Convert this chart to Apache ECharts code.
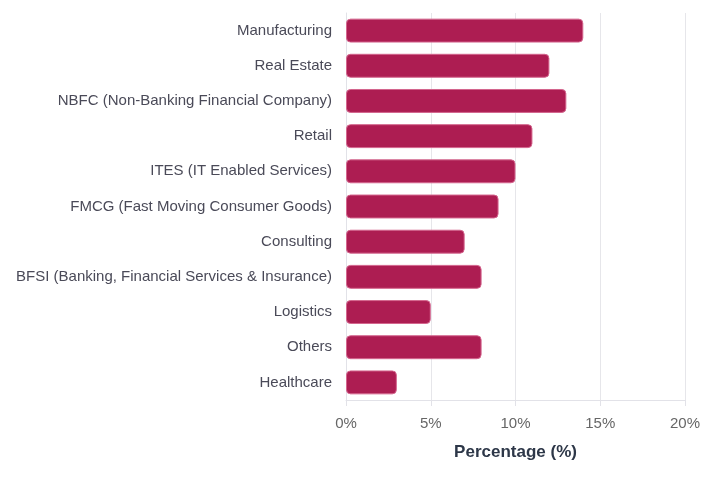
<!DOCTYPE html>
<html>
<head>
<meta charset="utf-8">
<script src="https://cdn.jsdelivr.net/npm/echarts@6/dist/echarts.min.js"></script>
<style>
  html, body { margin: 0; padding: 0; background: #fff; }
  #chart { width: 723px; height: 480px; }
</style>
</head>
<body>
<div id="chart"></div>
<script>
// categories listed top to bottom
var categories = [
    'Manufacturing',
    'Real Estate',
    'NBFC (Non-Banking Financial Company)',
    'Retail',
    'ITES (IT Enabled Services)',
    'FMCG (Fast Moving Consumer Goods)',
    'Consulting',
    'BFSI (Banking, Financial Services & Insurance)',
    'Logistics',
    'Others',
    'Healthcare'
];
var percentages = [14, 12, 13, 11, 10, 9, 7, 8, 5, 8, 3];
var xTicks = [0, 5, 10, 15, 20];

var chartDom = document.getElementById('chart');
var myChart = echarts.init(chartDom);
var font = '"Liberation Sans", Arial, sans-serif';

var option = {
    animation: false,
    grid: {
        left: 346,
        right: 38,
        top: 13,
        bottom: 80,
        containLabel: false
    },
    xAxis: {
        type: 'value',
        min: xTicks[0],
        max: xTicks[xTicks.length - 1],
        interval: 5,
        name: 'Percentage (%)',
        nameLocation: 'middle',
        nameGap: 44,
        nameTextStyle: {
            fontFamily: font,
            fontSize: 17,
            fontWeight: 'bold',
            color: '#2d3748'
        },
        axisLine: { show: true, lineStyle: { color: '#e2e2e8' } },
        axisTick: { show: true, length: 6, lineStyle: { color: '#e2e2e8' } },
        axisLabel: {
            formatter: '{value}%',
            fontFamily: font,
            fontSize: 15,
            color: '#666',
            margin: 16
        },
        splitLine: {
            lineStyle: { color: '#e6e6ea', width: 1 }
        }
    },
    yAxis: {
        type: 'category',
        data: categories,
        inverse: true,
        axisLine: { show: true, lineStyle: { color: '#e2e2e8' } },
        axisTick: { show: false },
        axisLabel: {
            fontFamily: font,
            fontSize: 15,
            color: '#4a4a58',
            margin: 14,
            padding: [2, 0, 0, 0]
        },
        splitLine: { show: false }
    },
    series: [
        {
            name: 'Percentage',
            type: 'bar',
            data: percentages,
            barWidth: '68%',
            itemStyle: {
                color: '#ad1d52',
                borderColor: '#d4668e',
                borderWidth: 1,
                borderRadius: 4
            }
        }
    ]
};

option && myChart.setOption(option);
</script>
</body>
</html>
